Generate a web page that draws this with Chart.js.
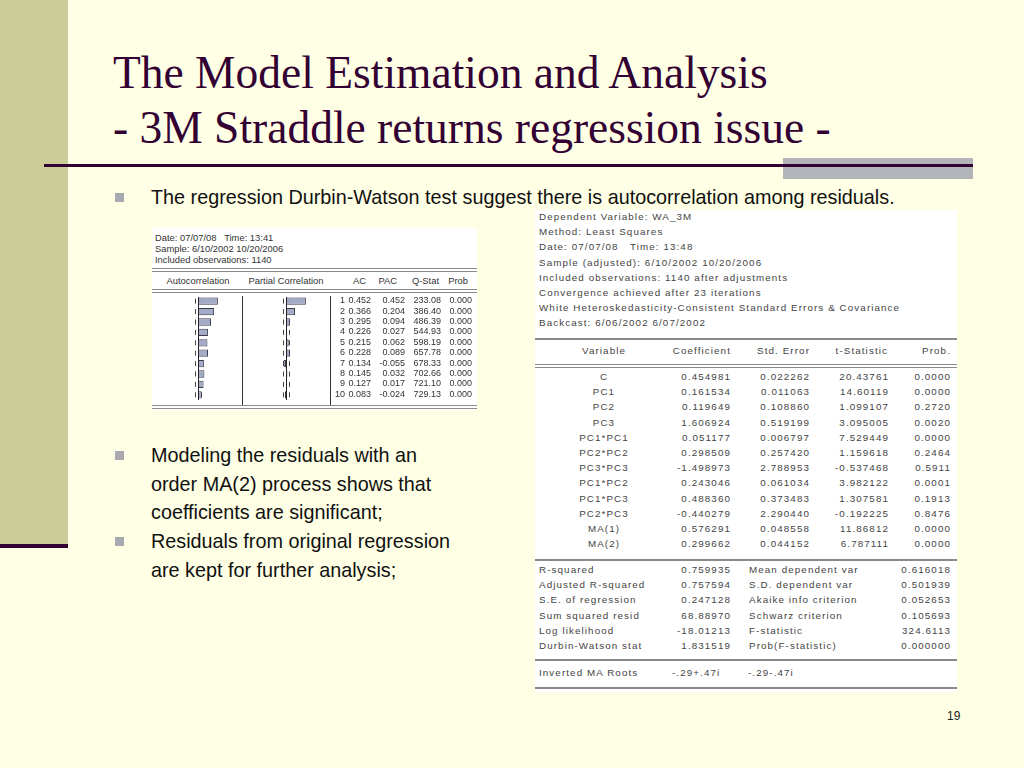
<!DOCTYPE html>
<html>
<head>
<meta charset="utf-8">
<script src="https://cdn.jsdelivr.net/npm/chart.js@4.4.0/dist/chart.umd.min.js"></script>
<style>
  html, body { margin: 0; padding: 0; background: #ffffe5; }
  #slide { position: relative; width: 1024px; height: 768px; overflow: hidden; background: #ffffe5; font-family: "Liberation Sans", Arial, sans-serif; }
  .abs { position: absolute; }
  .title { left: 113px; font-family: "Liberation Serif", "Times New Roman", serif; font-size: 45.5px; color: #330033; white-space: nowrap; line-height: 1; }
  .bullet { width: 9px; height: 9px; background: #a9a9b1; left: 115px; }
  .btext { left: 151px; font-size: 19.8px; color: #111; white-space: nowrap; line-height: 1; }
  .panel { background: #fff; }
  .ct { font-size: 9px; color: #333; white-space: pre; line-height: 1; }
  .ch { font-size: 9.4px; color: #333; white-space: pre; line-height: 1; }
  .rt { font-size: 9.8px; letter-spacing: 1.1px; color: #444; white-space: pre; line-height: 1; }
  .hl { background: #8a8a8a; height: 1px; }
  .vl { background: #333; width: 1px; }
</style>
</head>
<body>
<div id="slide">
  <div class="abs" style="left:0;top:0;width:68px;height:544px;background:#cccc99"></div>
  <div class="abs" style="left:0;top:544px;width:68px;height:4px;background:#330033"></div>

  <div class="abs title" style="top:50px">The Model Estimation and Analysis</div>
  <div class="abs title" style="top:105px">- 3M Straddle returns regression issue -</div>

  <div class="abs" style="left:783px;top:158px;width:190px;height:21px;background:#b3b3ba"></div>
  <div class="abs" style="left:44px;top:164px;width:929px;height:3px;background:#330033"></div>

  <div class="abs bullet" style="top:193px"></div>
  <div class="abs btext" style="top:188px">The regression Durbin-Watson test suggest there is autocorrelation among residuals.</div>

  <div class="abs bullet" style="top:451px"></div>
  <div class="abs btext" style="top:446px">Modeling the residuals with an</div>
  <div class="abs btext" style="top:475px">order MA(2) process shows that</div>
  <div class="abs btext" style="top:503px">coefficients are significant;</div>
  <div class="abs bullet" style="top:537px"></div>
  <div class="abs btext" style="top:532px">Residuals from original regression</div>
  <div class="abs btext" style="top:561px">are kept for further analysis;</div>

  <div class="abs" style="left:947px;top:709px;font-size:12px;color:#222">19</div>

  <!-- correlogram -->
  <div id="corr" class="abs panel" style="left:152px;top:228px;width:325px;height:182px"></div>
  <canvas id="acChart" class="abs" width="88" height="104" style="left:154px;top:296px;width:88px;height:104px"></canvas>
  <canvas id="pacChart" class="abs" width="88" height="104" style="left:242px;top:296px;width:88px;height:104px"></canvas>

  <!-- regression output -->
  <div id="reg" class="abs panel" style="left:535px;top:210px;width:422px;height:482px"></div>
</div>

<script>
// correlogram of residuals
const lags = [1, 2, 3, 4, 5, 6, 7, 8, 9, 10];
const acValues = [0.452, 0.366, 0.295, 0.226, 0.215, 0.228, 0.134, 0.145, 0.127, 0.083];
const pacValues = [0.452, 0.204, 0.094, 0.027, 0.062, 0.089, -0.055, 0.032, 0.017, -0.024];
const qStatValues = [233.08, 386.40, 486.39, 544.93, 598.19, 657.78, 678.33, 702.66, 721.10, 729.13];
const probValues = [0.000, 0.000, 0.000, 0.000, 0.000, 0.000, 0.000, 0.000, 0.000, 0.000];
const confBand = 0.059;

const corrHeader = ['Date: 07/07/08   Time: 13:41', 'Sample: 6/10/2002 10/20/2006', 'Included observations: 1140'];

// regression output
const regHeader = [
  'Dependent Variable: WA_3M',
  'Method: Least Squares',
  'Date: 07/07/08   Time: 13:48',
  'Sample (adjusted): 6/10/2002 10/20/2006',
  'Included observations: 1140 after adjustments',
  'Convergence achieved after 23 iterations',
  'White Heteroskedasticity-Consistent Standard Errors & Covariance',
  'Backcast: 6/06/2002 6/07/2002'
];
const regVariables = ['C', 'PC1', 'PC2', 'PC3', 'PC1*PC1', 'PC2*PC2', 'PC3*PC3', 'PC1*PC2', 'PC1*PC3', 'PC2*PC3', 'MA(1)', 'MA(2)'];
const regCoef = ['0.454981', '0.161534', '0.119649', '1.606924', '0.051177', '0.298509', '-1.498973', '0.243046', '0.488360', '-0.440279', '0.576291', '0.299662'];
const regStdErr = ['0.022262', '0.011063', '0.108860', '0.519199', '0.006797', '0.257420', '2.788953', '0.061034', '0.373483', '2.290440', '0.048558', '0.044152'];
const regTStat = ['20.43761', '14.60119', '1.099107', '3.095005', '7.529449', '1.159618', '-0.537468', '3.982122', '1.307581', '-0.192225', '11.86812', '6.787111'];
const regProb = ['0.0000', '0.0000', '0.2720', '0.0020', '0.0000', '0.2464', '0.5911', '0.0001', '0.1913', '0.8476', '0.0000', '0.0000'];
const statLabelsLeft = ['R-squared', 'Adjusted R-squared', 'S.E. of regression', 'Sum squared resid', 'Log likelihood', 'Durbin-Watson stat'];
const statValuesLeft = ['0.759935', '0.757594', '0.247128', '68.88970', '-18.01213', '1.831519'];
const statLabelsRight = ['Mean dependent var', 'S.D. dependent var', 'Akaike info criterion', 'Schwarz criterion', 'F-statistic', 'Prob(F-statistic)'];
const statValuesRight = ['0.616018', '0.501939', '0.052653', '0.105693', '324.6113', '0.000000'];
const maRoots = ['-.29+.47i', '-.29-.47i'];

const slide = document.getElementById('slide');

function put(cls, text, left, top, align) {
  const d = document.createElement('div');
  d.className = 'abs ' + cls;
  d.textContent = text;
  d.style.top = top + 'px';
  if (align === 'right') {
    d.style.right = (1024 - left) + 'px';
  } else if (align === 'center') {
    d.style.left = (left - 100) + 'px';
    d.style.width = '200px';
    d.style.textAlign = 'center';
  } else {
    d.style.left = left + 'px';
  }
  slide.appendChild(d);
  return d;
}

function rule(cls, left, top, width, height) {
  const d = document.createElement('div');
  d.className = 'abs ' + cls;
  d.style.left = left + 'px';
  d.style.top = top + 'px';
  if (width) d.style.width = width + 'px';
  if (height) d.style.height = height + 'px';
  slide.appendChild(d);
}

// correlogram text and lines
corrHeader.forEach((t, i) => put('ch', t, 155, 233 + i * 10.8));
rule('hl', 152, 268, 325); rule('hl', 152, 271, 325);
put('ch', 'Autocorrelation', 198, 276, 'center');
put('ch', 'Partial Correlation', 286, 276, 'center');
put('ch', 'AC', 366, 276, 'right');
put('ch', 'PAC', 397, 276, 'right');
put('ch', 'Q-Stat', 439, 276, 'right');
put('ch', 'Prob', 468, 276, 'right');
rule('hl', 152, 289, 325); rule('hl', 152, 292, 325);
rule('vl', 242, 296, null, 109);
rule('vl', 330, 296, null, 109);
const rowH = 104 / lags.length;
lags.forEach((lag, i) => {
  const y = 296 + (i + 0.5) * rowH - 5;
  put('ct', String(lag), 345, y, 'right');
  put('ct', acValues[i].toFixed(3), 371, y, 'right');
  put('ct', pacValues[i].toFixed(3), 405, y, 'right');
  put('ct', qStatValues[i].toFixed(2), 441, y, 'right');
  put('ct', probValues[i].toFixed(3), 472, y, 'right');
});
rule('hl', 152, 405, 325); rule('hl', 152, 408, 325);

// regression text and lines
regHeader.forEach((t, i) => put('rt', t, 539, 212 + i * 15.2));
rule('hl', 535, 338, 422, 2);
put('rt', 'Variable', 604, 346, 'center');
put('rt', 'Coefficient', 731, 346, 'right');
put('rt', 'Std. Error', 810, 346, 'right');
put('rt', 't-Statistic', 888, 346, 'right');
put('rt', 'Prob.', 951, 346, 'right');
rule('hl', 535, 364, 422); rule('hl', 535, 367, 422);
regVariables.forEach((v, i) => {
  const y = 372 + i * 15.2;
  put('rt', v, 604, y, 'center');
  put('rt', regCoef[i], 731, y, 'right');
  put('rt', regStdErr[i], 810, y, 'right');
  put('rt', regTStat[i], 889, y, 'right');
  put('rt', regProb[i], 951, y, 'right');
});
rule('hl', 535, 559, 422, 2);
statLabelsLeft.forEach((t, i) => {
  const y = 565 + i * 15.2;
  put('rt', t, 539, y);
  put('rt', statValuesLeft[i], 731, y, 'right');
  put('rt', statLabelsRight[i], 749, y);
  put('rt', statValuesRight[i], 951, y, 'right');
});
rule('hl', 535, 659, 422, 2);
put('rt', 'Inverted MA Roots', 539, 668);
put('rt', maRoots[0], 672, 668);
put('rt', maRoots[1], 748, 668);
rule('hl', 535, 687, 422, 2);

// zero line and +-2 s.e. marks, drawn from the chart's own scales
const bandPlugin = {
  id: 'band',
  beforeDatasetsDraw(chart) {
    const { ctx, scales: { x, y } } = chart;
    ctx.save();
    ctx.strokeStyle = '#444';
    ctx.lineWidth = 1;
    lags.forEach((_, i) => {
      const py = y.getPixelForValue(i);
      [-confBand, confBand].forEach(v => {
        const px = Math.round(x.getPixelForValue(v)) + 0.5;
        ctx.beginPath();
        ctx.moveTo(px, py - 2.5);
        ctx.lineTo(px, py + 2.5);
        ctx.stroke();
      });
    });
    ctx.restore();
  },
  afterDatasetsDraw(chart) {
    const { ctx, chartArea, scales: { x } } = chart;
    const px = Math.round(x.getPixelForValue(0)) + 0.5;
    ctx.save();
    ctx.strokeStyle = '#222';
    ctx.lineWidth = 1;
    ctx.beginPath();
    ctx.moveTo(px, chartArea.top + 1);
    ctx.lineTo(px, chartArea.bottom);
    ctx.stroke();
    ctx.restore();
  }
};

function corrChart(id, values) {
  return new Chart(document.getElementById(id), {
    type: 'bar',
    data: {
      labels: lags.map(String),
      datasets: [{
        data: values,
        backgroundColor: '#a2abc8',
        borderColor: '#3a3a4a',
        borderWidth: 1,
        borderSkipped: false,
        barPercentage: 0.7,
        categoryPercentage: 1
      }]
    },
    options: {
      indexAxis: 'y',
      responsive: false,
      animation: false,
      layout: { padding: 0 },
      plugins: { legend: { display: false }, tooltip: { enabled: false } },
      scales: {
        x: { display: false, min: -1, max: 1 },
        y: { display: false }
      }
    },
    plugins: [bandPlugin]
  });
}

corrChart('acChart', acValues);
corrChart('pacChart', pacValues);
</script>
</body>
</html>
